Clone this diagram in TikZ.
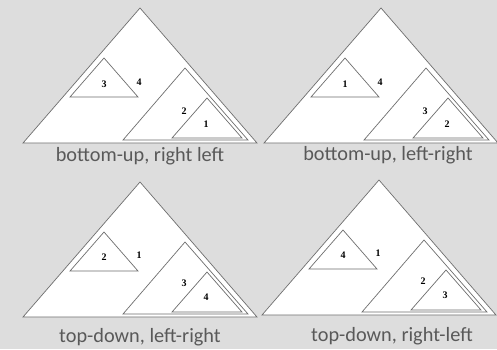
\documentclass[tikz,border=0pt]{standalone}
\usepackage{fontspec}
\setmainfont{Carlito}
\newfontfamily\numfont{Liberation Serif}
\definecolor{panelbg}{RGB}{221,221,221}
\definecolor{edgegray}{RGB}{110,110,110}
\definecolor{capgray}{RGB}{89,89,89}
\tikzset{
  tri/.style={draw=edgegray, fill=white, line width=0.7pt, line join=miter},
  num/.style={font=\numfont\bfseries\fontsize{10}{10}\selectfont, inner sep=0pt},
  captext/.style={font=\fontsize{20.3}{20.3}\selectfont, text=capgray, inner sep=0pt}
}
\begin{document}
\begin{tikzpicture}[x=1pt,y=-1pt]
\fill[panelbg] (0,0) rectangle (497,349);
\useasboundingbox (0,0) rectangle (497,349);

% bottom-up, right left
\begin{scope}
\draw[tri] (140,8)--(23,143)--(257,143)--cycle;
\draw[tri] (104,58)--(70,97)--(138,97)--cycle;
\draw[tri] (185,68)--(123,140)--(248,140)--cycle;
\draw[tri] (207,98)--(172,138)--(242,138)--cycle;
\node[num] (a3) at (104,84) {3};
\node[num] (a4) at (139,82) {4};
\node[num] (a2) at (184,111) {2};
\node[num] (a1) at (206,124) {1};
\end{scope}
\node[captext] (capA) at (140,156) {bottom-up, right left};

% bottom-up, left-right
\begin{scope}[xshift=241pt]
\draw[tri] (140,8)--(23,143)--(257,143)--cycle;
\draw[tri] (104,58)--(70,97)--(138,97)--cycle;
\draw[tri] (185,68)--(123,140)--(248,140)--cycle;
\draw[tri] (207,98)--(172,138)--(242,138)--cycle;
\node[num] (b1) at (104,84) {1};
\node[num] (b4) at (139,82) {4};
\node[num] (b3) at (184,111) {3};
\node[num] (b2) at (206,124) {2};
\end{scope}
\node[captext] (capB) at (388,155) {bottom-up, left-right};

% top-down, left-right
\begin{scope}[yshift=-174pt]
\draw[tri] (140,8)--(23,143)--(257,143)--cycle;
\draw[tri] (104,58)--(70,97)--(138,97)--cycle;
\draw[tri] (185,68)--(123,140)--(248,140)--cycle;
\draw[tri] (207,98)--(172,138)--(242,138)--cycle;
\node[num] (c2) at (104,83) {2};
\node[num] (c1) at (139,81) {1};
\node[num] (c3) at (184,109) {3};
\node[num] (c4) at (206,123) {4};
\end{scope}
\node[captext] (capC) at (140,337) {top-down, left-right};

% top-down, right-left
\begin{scope}[xshift=239pt,yshift=-172pt]
\draw[tri] (140,8)--(23,143)--(257,143)--cycle;
\draw[tri] (104,58)--(70,97)--(138,97)--cycle;
\draw[tri] (185,68)--(123,140)--(248,140)--cycle;
\draw[tri] (207,98)--(172,138)--(242,138)--cycle;
\node[num] (d4) at (104,83) {4};
\node[num] (d1) at (139,81) {1};
\node[num] (d2) at (184,109) {2};
\node[num] (d3) at (206,123) {3};
\end{scope}
\node[captext] (capD) at (392,336) {top-down, right-left};
\end{tikzpicture}
\end{document}
